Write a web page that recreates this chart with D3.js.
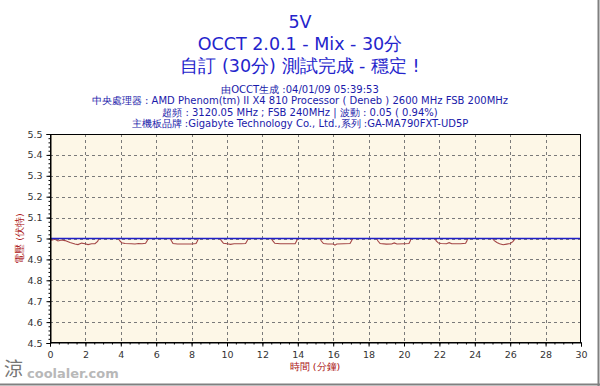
<!DOCTYPE html>
<html><head><meta charset="utf-8">
<script src="https://cdn.jsdelivr.net/npm/d3@7"></script>
<style>html,body{margin:0;padding:0;background:#fff;}svg{display:block;}</style>
</head><body>
<script>
const titleLines = ["5V", "OCCT 2.0.1 - Mix - 30分", "自訂 (30分) 測試完成 - 穩定 !"];
const infoLines = [
  "由OCCT生成 :04/01/09 05:39:53",
  "中央處理器 : AMD Phenom(tm) II X4 810 Processor ( Deneb ) 2600 MHz FSB 200MHz",
  "超頻 : 3120.05 MHz ; FSB 240MHz | 波動 : 0.05 ( 0.94%)",
  "主機板品牌 :Gigabyte Technology Co., Ltd.,系列 :GA-MA790FXT-UD5P"
];
const yLabel = "電壓 (伏特)";
const xLabel = "時間 (分鐘)";
const xTicks = [0,2,4,6,8,10,12,14,16,18,20,22,24,26,28,30];
const yTicks = [4.5,4.6,4.7,4.8,4.9,5,5.1,5.2,5.3,5.4,5.5];
const targetTime = [0, 30];
const targetVolt = [5.0, 5.0];
const measTime = [0,0.1,0.28,0.45,0.66,0.85,1.13,1.41,1.58,1.79,1.98,2.15,2.35,2.54,2.69,2.77,
  3.86,3.95,4.05,4.24,4.6,4.8,5.0,5.2,5.4,5.48,5.55,
  6.78,6.85,6.95,7.2,7.6,8.0,8.25,8.32,8.38,
  9.6,9.68,9.8,10.0,10.2,10.4,10.8,11.05,11.13,11.2,
  12.5,12.58,12.7,13.0,13.5,13.85,13.93,14.0,
  15.25,15.33,15.45,15.7,16.0,16.1,16.2,16.6,16.95,17.03,17.1,
  18.45,18.53,18.65,19.0,19.3,19.45,19.6,20.0,20.28,20.35,20.4,
  21.75,21.82,21.95,22.1,22.4,22.55,22.7,23.2,23.48,23.55,23.6,
  25.0,25.1,25.25,25.4,25.6,25.8,26.0,26.15,26.3];
const measVolt = [5.0,4.992,4.996,4.988,4.993,4.99,4.981,4.974,4.971,4.978,4.975,4.971,4.975,4.975,4.986,5.0,
  5.0,4.988,4.98,4.976,4.975,4.974,4.976,4.975,4.977,4.988,5.0,
  5.0,4.99,4.976,4.974,4.974,4.974,4.976,4.987,5.0,
  5.0,4.99,4.977,4.975,4.972,4.975,4.975,4.976,4.988,5.0,
  5.0,4.99,4.977,4.975,4.975,4.975,4.988,5.0,
  5.0,4.988,4.976,4.974,4.974,4.968,4.974,4.975,4.976,4.988,5.0,
  5.0,4.988,4.976,4.973,4.974,4.979,4.974,4.975,4.976,4.988,5.0,
  5.0,4.988,4.978,4.976,4.975,4.98,4.975,4.975,4.977,4.988,5.0,
  5.0,4.99,4.981,4.975,4.97,4.973,4.976,4.985,5.002];

const W = 600, H = 386;
const svg = d3.select("body").append("svg").attr("width", W).attr("height", H)
  .style("font-family", "'DejaVu Sans', Verdana, sans-serif");
svg.append("rect").attr("width", W).attr("height", H).attr("fill", "#fff");
// frame edges
svg.append("line").attr("x1", 0).attr("x2", W).attr("y1", H-1.5).attr("y2", H-1.5).attr("stroke", "#808080").attr("stroke-width", 2);
svg.append("line").attr("x1", W-1.5).attr("x2", W-1.5).attr("y1", 0).attr("y2", H).attr("stroke", "#808080").attr("stroke-width", 2);

const m = {l: 50, r: 581, t: 134, b: 343};
const x = d3.scaleLinear().domain([0, 30]).range([m.l, m.r]);
const y = d3.scaleLinear().domain([4.5, 5.5]).range([m.b, m.t]);

// titles
const titleY = [28, 50, 72];
titleLines.forEach((t, i) => {
  svg.append("text").attr("x", 300).attr("y", titleY[i]).attr("text-anchor", "middle")
    .attr("font-size", 17.5).attr("fill", "#2424cc").text(t);
});
const infoY = [92.5, 104, 115.5, 127];
infoLines.forEach((t, i) => {
  svg.append("text").attr("x", 300).attr("y", infoY[i]).attr("text-anchor", "middle")
    .attr("font-size", 10).attr("fill", "#1a1aaa").text(t);
});

// plot background
svg.append("rect").attr("x", m.l).attr("y", m.t).attr("width", m.r - m.l).attr("height", m.b - m.t)
  .attr("fill", "#fdf7e7");

// grid
const g = svg.append("g");
yTicks.slice(1, -1).forEach(v => {
  g.append("line").attr("x1", m.l).attr("x2", m.r).attr("y1", Math.round(y(v)) + 0.5).attr("y2", Math.round(y(v)) + 0.5)
    .attr("stroke", "#7a7a7a").attr("stroke-dasharray", "3,3");
});
xTicks.slice(1, -1).forEach(v => {
  g.append("line").attr("y1", m.t).attr("y2", m.b).attr("x1", Math.round(x(v)) + 0.5).attr("x2", Math.round(x(v)) + 0.5)
    .attr("stroke", "#7a7a7a").attr("stroke-dasharray", "3,3");
});

// data lines
const line = d3.line().x(d => x(d[0])).y(d => y(d[1]));
const meas = measTime.map((t, i) => [t, measVolt[i]]);
const targ = targetTime.map((t, i) => [t, targetVolt[i]]);
svg.append("path").attr("d", line(meas)).attr("fill", "none").attr("stroke", "#a34545").attr("stroke-width", 1.1);
svg.append("path").attr("d", line(targ)).attr("fill", "none").attr("stroke", "#2020c8").attr("stroke-width", 1.5);

// frame
svg.append("rect").attr("x", m.l + 0.5).attr("y", m.t + 0.5).attr("width", m.r - m.l - 1).attr("height", m.b - m.t - 1)
  .attr("fill", "none").attr("stroke", "#000");

// axes
const yAxis = d3.axisLeft(y).tickValues(yTicks).tickFormat(d => d3.format("")(+d.toFixed(1))).tickSize(4);
const ya = svg.append("g").attr("transform", `translate(${m.l + 0.5},0)`).call(yAxis);
const yMinor = d3.axisLeft(y).tickValues(d3.range(0, 51).map(i => 4.5 + i * 0.02)).tickFormat("").tickSize(2);
svg.append("g").attr("transform", `translate(${m.l + 0.5},0)`).call(yMinor).select(".domain").remove();
const xAxis = d3.axisBottom(x).tickValues(xTicks).tickSize(4);
const xa = svg.append("g").attr("transform", `translate(0,${m.b - 0.5})`).call(xAxis);
const xMinor = d3.axisBottom(x).tickValues(d3.range(0, 61).map(i => i * 0.5)).tickFormat("").tickSize(2);
svg.append("g").attr("transform", `translate(0,${m.b - 0.5})`).call(xMinor).select(".domain").remove();
[ya, xa].forEach(a => {
  a.selectAll("text").attr("font-size", 9.5).attr("fill", "#333").style("font-family", "'DejaVu Sans', Verdana, sans-serif");
  a.select(".domain").attr("stroke", "#000");
});
ya.selectAll("text").attr("dx", "-1");
xa.selectAll("text").attr("dy", "0.9em");

// axis titles
svg.append("text").attr("transform", `translate(23,${(m.t + m.b) / 2}) rotate(-90)`).attr("text-anchor", "middle")
  .attr("font-size", 9.5).attr("fill", "#aa1111").text(yLabel);
svg.append("text").attr("x", 315).attr("y", 370).attr("text-anchor", "middle")
  .attr("font-size", 9.5).attr("fill", "#aa1111").text(xLabel);

// watermark
svg.append("text").attr("x", 4).attr("y", 376).attr("font-size", 19).attr("fill", "#555").attr("opacity", 0.8)
  .style("font-family", "'Noto Sans CJK TC', sans-serif").text("涼");
svg.append("text").attr("x", 27).attr("y", 378).attr("font-size", 13).attr("font-weight", "bold")
  .attr("fill", "#b8b8b8").text("coolaler.com");
</script>
</body></html>
